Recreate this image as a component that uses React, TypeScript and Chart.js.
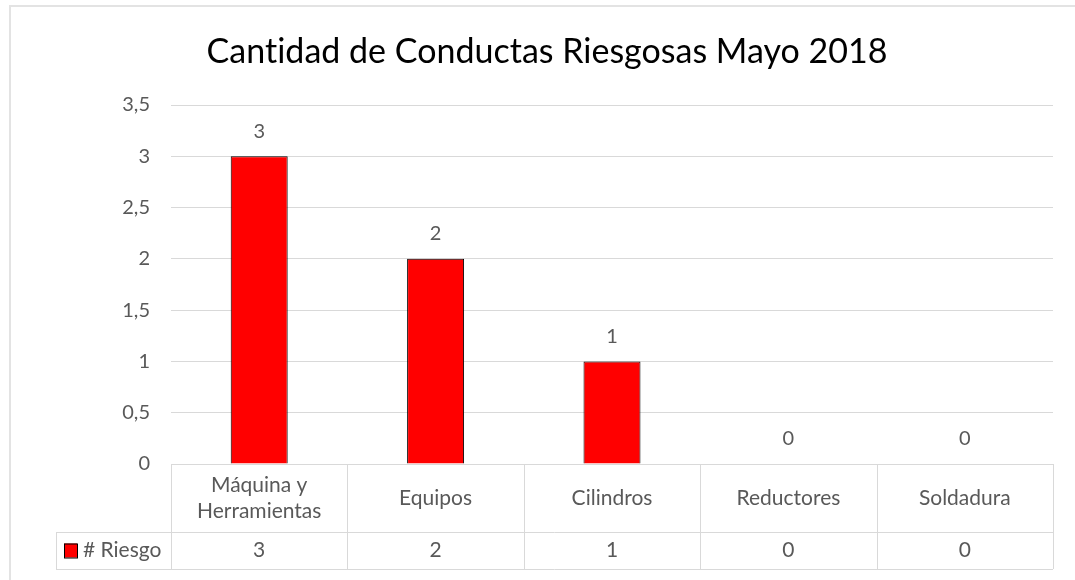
import React, { useEffect, useRef } from "react";
import { Chart, registerables } from "chart.js";

Chart.register(...registerables);

const TITLE = "Cantidad de Conductas Riesgosas Mayo 2018";
const SERIES_NAME = "# Riesgo";
const categories: string[][] = [
  ["Máquina y", "Herramientas"],
  ["Equipos"],
  ["Cilindros"],
  ["Reductores"],
  ["Soldadura"],
];
const values: number[] = [3, 2, 1, 0, 0];
const yTicks: number[] = [0, 0.5, 1, 1.5, 2, 2.5, 3, 3.5];

const FONT = "Lato, 'Noto Sans', sans-serif";
const TEXT = "#595959";
const LINE = "#d9d9d9";

const fmt = (v: number) => String(v).replace(".", ",");

export default function App() {
  const ref = useRef<HTMLCanvasElement | null>(null);

  useEffect(() => {
    const canvas = ref.current;
    if (!canvas) return;

    const framePlugin = {
      id: "frame",
      beforeDraw(chart: any) {
        const ctx = chart.ctx;
        ctx.save();
        ctx.fillStyle = "#ffffff";
        ctx.fillRect(0, 0, chart.width, chart.height);
        ctx.strokeStyle = "#e3e3e3";
        ctx.lineWidth = 2;
        ctx.beginPath();
        ctx.moveTo(10, chart.height + 5);
        ctx.lineTo(10, 6);
        ctx.lineTo(chart.width + 5, 6);
        ctx.stroke();
        ctx.fillStyle = "#000000";
        ctx.font = `34px ${FONT}`;
        ctx.textAlign = "center";
        ctx.textBaseline = "middle";
        try {
          (ctx as any).letterSpacing = "0.01px";
        } catch (e) {}
        ctx.fillText(TITLE, 547, 52);
        ctx.restore();
      },
    };

    const labelsPlugin = {
      id: "valueLabels",
      afterDatasetsDraw(chart: any) {
        const ctx = chart.ctx;
        const meta = chart.getDatasetMeta(0);
        ctx.save();
        ctx.fillStyle = TEXT;
        ctx.font = `20px ${FONT}`;
        ctx.textAlign = "center";
        ctx.textBaseline = "middle";
        meta.data.forEach((el: any, i: number) => {
          ctx.fillText(fmt(values[i]), el.x, el.y - 25);
        });
        ctx.restore();
      },
    };

    const tablePlugin = {
      id: "dataTable",
      afterDraw(chart: any) {
        const ctx = chart.ctx;
        const area = chart.chartArea;
        const xs = chart.scales.x;
        const n = categories.length;
        const w = (area.right - area.left) / n;
        const top = area.bottom;
        const mid = top + 68;
        const bot = top + 105;
        const legendLeft = 56;
        const px = (v: number) => Math.round(v) + 0.5;
        ctx.save();
        ctx.strokeStyle = LINE;
        ctx.lineWidth = 1;
        ctx.beginPath();
        ctx.moveTo(area.left, px(top));
        ctx.lineTo(area.right, px(top));
        ctx.moveTo(legendLeft, px(mid));
        ctx.lineTo(area.right, px(mid));
        ctx.moveTo(legendLeft, px(bot));
        ctx.lineTo(area.right, px(bot));
        for (let i = 0; i <= n; i++) {
          const x = px(area.left + i * w);
          ctx.moveTo(x, top);
          ctx.lineTo(x, bot);
        }
        ctx.moveTo(px(legendLeft), mid);
        ctx.lineTo(px(legendLeft), bot);
        ctx.stroke();

        ctx.fillStyle = TEXT;
        ctx.font = `21px ${FONT}`;
        ctx.textAlign = "center";
        ctx.textBaseline = "middle";
        const lh = 26;
        categories.forEach((lines, i) => {
          const cx = xs.getPixelForValue(i);
          const cy = (top + mid) / 2;
          const start = cy - ((lines.length - 1) * lh) / 2;
          lines.forEach((t, j) => ctx.fillText(t, cx, start + j * lh));
          ctx.fillText(fmt(values[i]), cx, (mid + bot) / 2);
        });

        const ry = (mid + bot) / 2;
        ctx.fillStyle = "#ff0000";
        ctx.fillRect(64, ry - 7, 13, 14);
        ctx.strokeStyle = "#000000";
        ctx.lineWidth = 1;
        ctx.strokeRect(64.5, ry - 6.5, 13, 14);
        ctx.fillStyle = TEXT;
        ctx.textAlign = "left";
        ctx.fillText(SERIES_NAME, 83, ry);
        ctx.restore();
      },
    };

    const chart = new Chart(canvas, {
      type: "bar",
      data: {
        labels: categories.map((c) => c.join(" ")),
        datasets: [
          {
            label: SERIES_NAME,
            data: values,
            backgroundColor: "#ff0000",
            borderColor: "#000000",
            borderWidth: 1,
            categoryPercentage: 1,
            barPercentage: 0.323,
          },
        ],
      },
      options: {
        responsive: false,
        animation: false,
        layout: { padding: { top: 105, right: 22, bottom: 116, left: 0 } },
        plugins: {
          legend: { display: false },
          title: { display: false },
          tooltip: { enabled: false },
        },
        scales: {
          x: { display: false },
          y: {
            min: 0,
            max: 3.5,
            afterFit(scale: any) {
              scale.width = 171;
            },
            afterBuildTicks(scale: any) {
              scale.ticks = yTicks.map((v) => ({ value: v }));
            },
            border: { display: false },
            grid: { color: LINE, drawTicks: false, lineWidth: 1 },
            ticks: {
              padding: 21,
              color: TEXT,
              font: { family: FONT, size: 20 },
              callback: (v: any) => fmt(Number(v)),
            },
          },
        },
      },
      plugins: [framePlugin, labelsPlugin, tablePlugin],
    });

    return () => chart.destroy();
  }, []);

  return (
    <div style={{ position: "absolute", left: 0, top: 0, width: 1075, height: 580, background: "#fff" }}>
      <canvas ref={ref} width={1075} height={580} style={{ display: "block" }} />
    </div>
  );
}
